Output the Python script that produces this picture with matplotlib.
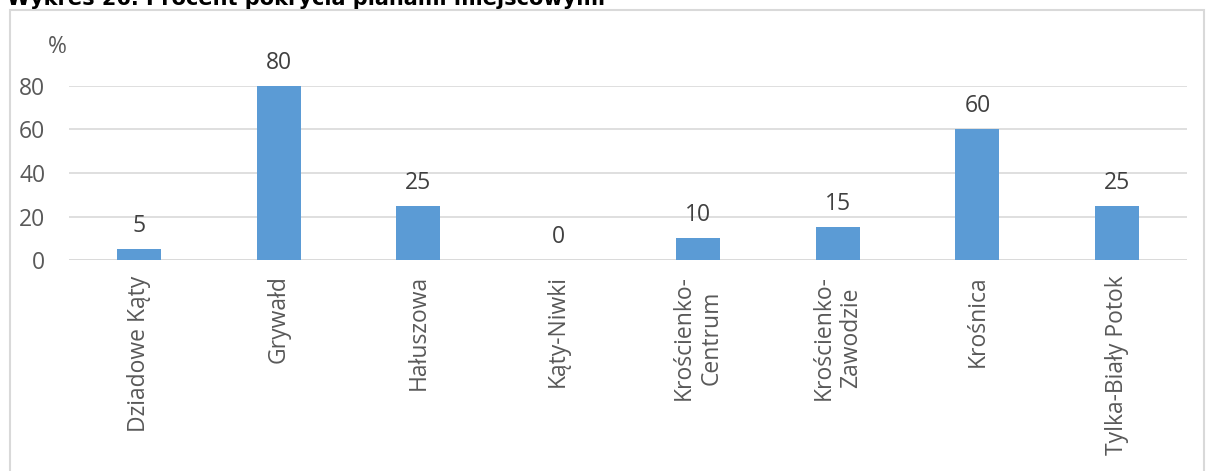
import matplotlib
matplotlib.use("Agg")
import matplotlib.pyplot as plt
from matplotlib.patches import Rectangle

# --------------------------------------------------------------------------
# dane
# --------------------------------------------------------------------------
categories = ["Dziadowe Kąty", "Grywałd", "Hałuszowa", "Kąty-Niwki",
              "Krościenko-\nCentrum", "Krościenko-\nZawodzie", "Krośnica",
              "Tylka-Biały Potok"]
values = [5, 80, 25, 0, 10, 15, 60, 25]
yticks = [0, 20, 40, 60, 80]

TITLE = "Wykres 26. Procent pokrycia planami miejscowymi"
BAR_COLOR = "#5b9bd5"
TEXT_COLOR = "#595959"
GRID_COLOR = "#d9d9d9"

plt.rcParams["font.family"] = ["Open Sans", "DejaVu Sans"]
FS = 16.5

W, H = 1207, 471
fig = plt.figure(figsize=(W / 100, H / 100), dpi=100)
ax = fig.add_axes([69 / W, 1 - 260 / H, (1187 - 69) / W, (260 - 86) / H])

x = range(len(categories))
ax.bar(x, values, width=0.315, color=BAR_COLOR, zorder=2)
for xi, v in zip(x, values):
    ax.annotate(str(v), (xi, v), xytext=(0, 8), textcoords="offset points",
                ha="center", va="bottom", fontsize=FS, color="#404040",
                annotation_clip=False)

ax.set_xlim(-0.5, len(categories) - 0.5)
ax.set_ylim(0, 80)
ax.set_yticks(yticks)
ax.set_xticks(list(x))
ax.set_xticklabels(categories, rotation=90, va="top", ha="center",
                   multialignment="center", fontsize=FS, color=TEXT_COLOR,
                   linespacing=1.2)
ax.tick_params(axis="y", labelsize=FS, labelcolor=TEXT_COLOR, length=0, pad=17)
ax.tick_params(axis="x", length=0, pad=11)
ax.grid(axis="y", color=GRID_COLOR, linewidth=1.2, zorder=0)
for s in ax.spines.values():
    s.set_visible(False)
ax.axhline(0, color=GRID_COLOR, linewidth=1.2, zorder=1)

ax.text(-0.002, 1.224, "%", transform=ax.transAxes, fontsize=FS,
        color=TEXT_COLOR, ha="right", va="center")

# ramka wykresu (wychodzi poza dół obrazka)
fig.patches.append(Rectangle((10 / W, -0.1), (1204 - 10) / W, 1.1 - 10 / H,
                             transform=fig.transFigure, fill=False,
                             edgecolor=GRID_COLOR, linewidth=1.5))

fig.text(7 / W, 1 - 5 / H, TITLE, fontsize=15, fontweight="bold",
         family="DejaVu Sans", color="black", ha="left", va="baseline")

fig.savefig("out.png", dpi=100)
